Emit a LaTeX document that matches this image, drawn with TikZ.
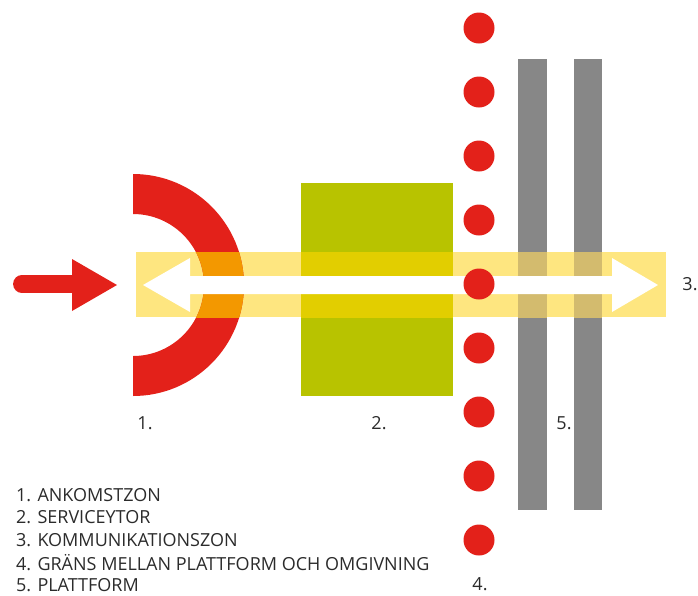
\documentclass[tikz,border=0pt]{standalone}
\usepackage{fontspec}
\setmainfont{Open Sans}
\definecolor{zred}{HTML}{E3211A}
\definecolor{zorange}{HTML}{F39800}
\definecolor{zgreen}{HTML}{B8C300}
\definecolor{zband}{HTML}{FEE680}
\definecolor{zbandgreen}{HTML}{E2CE00}
\definecolor{zgray}{HTML}{878787}
\definecolor{zbandgray}{HTML}{D3BB6E}
\definecolor{ztext}{HTML}{2B2B2B}
\tikzset{
  lbl/.style={text=ztext, font=\fontsize{18}{21}\selectfont, inner sep=0pt},
  legend/.style={lbl, anchor=west},
}
\begin{document}
\begin{tikzpicture}[x=1pt,y=-1pt]
\useasboundingbox (0,0) rectangle (698,595);
% band
\fill[zband] (136,252) rectangle (666,317);
% ring
\begin{scope}
  \clip (133,0) rectangle (698,595);
  \fill[zred, even odd rule] (133,285) circle[radius=111] (133,285) circle[radius=71];
\end{scope}
% green box
\fill[zgreen] (301,183) rectangle (453,396);
% gray bars
\fill[zgray] (518,59) rectangle (546.5,510);
\fill[zgray] (574,59) rectangle (602,510);
% overlaps with band
\begin{scope}
  \clip (136,252) rectangle (666,317);
  \begin{scope}
    \clip (133,0) rectangle (698,595);
    \fill[zorange, even odd rule] (133,285) circle[radius=111] (133,285) circle[radius=71];
  \end{scope}
  \fill[zbandgreen] (301,183) rectangle (453,396);
  \fill[zbandgray] (518,59) rectangle (546.5,510);
  \fill[zbandgray] (574,59) rectangle (602,510);
\end{scope}
% white double arrow
\fill[white] (143,285) -- (190,258) -- (190,276) -- (612,276) -- (612,258) -- (658,285)
  -- (612,312) -- (612,294) -- (190,294) -- (190,312) -- cycle;
% red arrow
\draw[zred, line width=17.7pt, line cap=round] (21.9,284) -- (75,284);
\fill[zred] (72,259) -- (117,285) -- (72,311) -- cycle;
% dots
\foreach \i in {0,...,8}
  \fill[zred] (479,28+64*\i) circle[radius=15.5];
% labels
\node[lbl] (l1) at (145,423) {1.};
\node[lbl] (l2) at (379,423) {2.};
\node[lbl] (l3) at (690,284) {3.};
\node[lbl, text depth=0pt, anchor=south] (l4) at (480,591) {4.};
\node[lbl] (l5) at (564,423) {5.};
% legend
\node[legend] (g1) at (16,495) {1. ANKOMSTZON};
\node[legend] (g2) at (16,517.5) {2. SERVICEYTOR};
\node[legend] (g3) at (16,540) {3. KOMMUNIKATIONSZON};
\node[legend] (g4) at (16,562.5) {4. GRÄNS MELLAN PLATTFORM OCH OMGIVNING};
\node[legend] (g5) at (16,585) {5. PLATTFORM};
\end{tikzpicture}
\end{document}
